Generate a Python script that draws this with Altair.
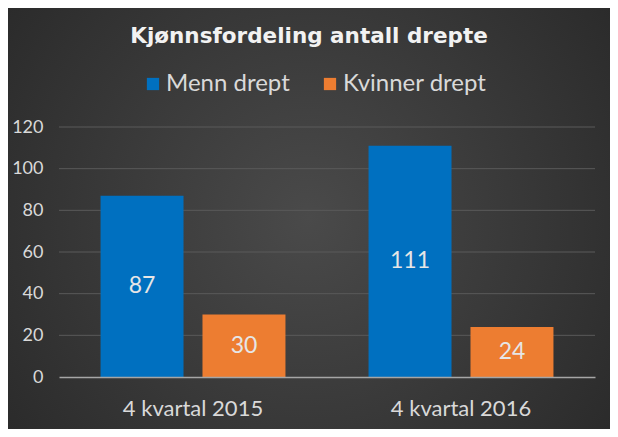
import altair as alt
import pandas as pd

categories = ["4 kvartal 2015", "4 kvartal 2016"]
series = ["Menn drept", "Kvinner drept"]
menn = [87, 111]
kvinner = [30, 24]
y_ticks = [0, 20, 40, 60, 80, 100, 120]
grid_vals = [20, 40, 60, 80, 100, 120]
colors = ["#0070C0", "#ED7D31"]

rows = []
for i, c in enumerate(categories):
    rows.append({"kvartal": c, "serie": series[0], "antall": menn[i]})
    rows.append({"kvartal": c, "serie": series[1], "antall": kvinner[i]})
df = pd.DataFrame(rows)

FONT = "Lato"
W, H = 536, 250
PAD = {"left": 51, "top": 119, "right": 15, "bottom": 52}

xs = alt.Scale(domain=categories, paddingInner=0.31, paddingOuter=0.155)
xo = alt.Scale(domain=series, paddingInner=0.186, paddingOuter=0)
ys = alt.Scale(domain=[0, 120])

y_axis = alt.Axis(title=None, values=y_ticks, grid=False, domain=False, ticks=False,
                  labelFontSize=18, labelColor="#d9d9d9", labelFont=FONT,
                  labelPadding=16, zindex=1)

bg = alt.Chart(alt.Data(values=[{}])).mark_rect(
    fill={
        "gradient": "radial",
        "x1": 0.5, "y1": 0.5, "r1": 0,
        "x2": 0.5, "y2": 0.5, "r2": 0.75,
        "stops": [
            {"offset": 0, "color": "#4a4a4a"},
            {"offset": 1, "color": "#242424"},
        ],
    }
).encode(
    x=alt.value(-PAD["left"]), x2=alt.value(W + PAD["right"]),
    y=alt.value(-PAD["top"]), y2=alt.value(H + PAD["bottom"]),
)

grid = alt.Chart(pd.DataFrame({"g": grid_vals})).mark_rule(
    color="#5a5a5a", strokeWidth=1
).encode(y=alt.Y("g:Q", scale=ys, axis=y_axis))

bars = alt.Chart(df).mark_bar().encode(
    x=alt.X("kvartal:N", scale=xs, sort=categories,
            axis=alt.Axis(title=None, labelAngle=0, labelFontSize=22, labelColor="#d9d9d9",
                          labelFont=FONT, ticks=False, labelPadding=21,
                          domainColor="#a6a6a6", domainWidth=1.5, zindex=1)),
    xOffset=alt.XOffset("serie:N", scale=xo, sort=series),
    y=alt.Y("antall:Q", scale=ys, axis=y_axis),
    color=alt.Color("serie:N", scale=alt.Scale(domain=series, range=colors),
                    legend=alt.Legend(title=None, orient="none", direction="horizontal",
                                      legendX=82, legendY=-55, symbolType="square",
                                      symbolSize=150, symbolStrokeWidth=0, symbolOpacity=1,
                                      labelFontSize=24, labelColor="#d9d9d9", labelFont=FONT,
                                      columnPadding=28, labelOffset=1)),
)

labels = alt.Chart(df).transform_calculate(mid="datum.antall / 2").mark_text(
    fontSize=23, color="#e6e6e6", font=FONT, baseline="middle"
).encode(
    x=alt.X("kvartal:N", scale=xs, sort=categories),
    xOffset=alt.XOffset("serie:N", scale=xo, sort=series),
    y=alt.Y("mid:Q", scale=ys),
    text=alt.Text("antall:Q"),
)

chart = alt.layer(bg, grid, bars, labels).properties(
    width=W, height=H,
    padding=PAD,
    autosize=alt.AutoSizeParams(type="none"),
    background="#2e2e2e",
    title=alt.Title("Kjønnsfordeling antall drepte", font="DejaVu Sans", fontSize=21.5,
                    fontWeight="bold", color="#f2f2f2", anchor="middle", dx=-18, offset=-39),
).configure_view(stroke=None)

chart.save("out.html", embed_options={"renderer": "svg", "actions": False})
